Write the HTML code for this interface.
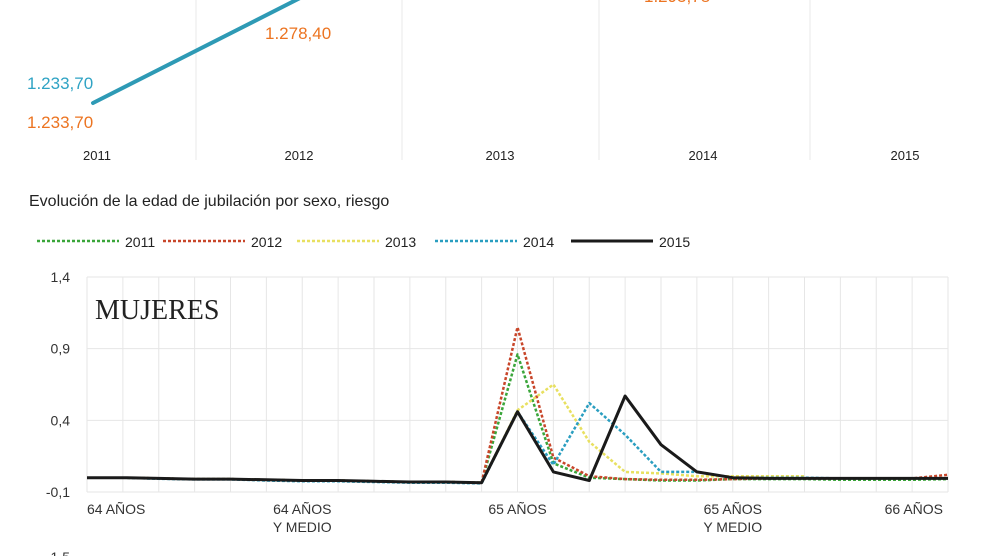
<!DOCTYPE html>
<html><head><meta charset="utf-8"><style>
html,body{margin:0;padding:0;background:#fff;width:990px;height:556px;overflow:hidden}
svg{display:block;font-family:"Liberation Sans",Arial,sans-serif}
</style></head><body>
<svg id="c" width="990" height="556" viewBox="0 0 990 556">
 <g>
  <line x1="196" y1="0" x2="196" y2="160" stroke="#e8e8e8"/>
  <line x1="402" y1="0" x2="402" y2="160" stroke="#e8e8e8"/>
  <line x1="599" y1="0" x2="599" y2="160" stroke="#e8e8e8"/>
  <line x1="810" y1="0" x2="810" y2="160" stroke="#e8e8e8"/>
  <line x1="93" y1="103" x2="302" y2="-3" stroke="#2e9ab5" stroke-width="4" stroke-linecap="round"/>
  <text x="27" y="89" font-size="17" fill="#2fa3c4">1.233,70</text>
  <text x="27" y="128" font-size="17" fill="#ec7421">1.233,70</text>
  <text x="265" y="39" font-size="17" fill="#ec7421">1.278,40</text>
  <text x="644" y="2" font-size="17" fill="#ec7421">1.295,78</text>
  <g font-size="13" fill="#222" text-anchor="middle">
   <text x="97" y="160">2011</text>
   <text x="299" y="160">2012</text>
   <text x="500" y="160">2013</text>
   <text x="703" y="160">2014</text>
   <text x="905" y="160">2015</text>
  </g>
 </g>
 <text x="29" y="206" font-size="16" fill="#222">Evolución de la edad de jubilación por sexo, riesgo</text>
 <g id="legend"></g>
 <g id="grid"></g>
 <text x="95" y="319" font-family="'Liberation Serif',serif" font-size="28" fill="#222">MUJERES</text>
 <g id="series"></g>
 <text x="70" y="562" font-size="14" fill="#333" text-anchor="end">-1,5</text>
</svg>
<script>
const yTicks=[1.4,0.9,0.4,-0.1];
const yTickLabels=["1,4","0,9","0,4","-0,1"];
const xLabels=[[0,"64 AÑOS",""],[6,"64 AÑOS","Y MEDIO"],[12,"65 AÑOS",""],[18,"65 AÑOS","Y MEDIO"],[24,"66 AÑOS",""]];
const seriesNames=["2011","2012","2013","2014","2015"];
const s2011=[0,0,-0.005,-0.01,-0.01,-0.015,-0.02,-0.02,-0.025,-0.03,-0.03,-0.035,0.86,0.1,0.0,-0.01,-0.02,-0.02,-0.01,-0.01,-0.01,-0.015,-0.015,-0.015,-0.01];
const s2012=[0,0,-0.005,-0.01,-0.01,-0.015,-0.02,-0.02,-0.025,-0.03,-0.03,-0.035,1.05,0.14,0.01,-0.01,-0.015,-0.015,-0.01,-0.005,-0.005,-0.005,-0.005,-0.005,0.02];
const s2013=[0,0,-0.005,-0.01,-0.01,-0.015,-0.02,-0.02,-0.025,-0.03,-0.03,-0.035,0.47,0.65,0.25,0.04,0.03,0.01,0.01,0.01,0.01,null,null,null,null];
const s2014=[0,0,-0.008,-0.012,-0.012,-0.02,-0.025,-0.025,-0.03,-0.035,-0.035,-0.04,0.46,0.09,0.52,0.3,0.04,0.04,0.0,0.0,0.0,-0.005,-0.005,-0.005,-0.005];
const s2015=[0,0,-0.005,-0.01,-0.01,-0.015,-0.02,-0.02,-0.025,-0.03,-0.03,-0.035,0.46,0.04,-0.02,0.57,0.23,0.04,0.0,-0.005,-0.005,-0.005,-0.005,-0.005,-0.005];
const seriesData=[s2011,s2012,s2013,s2014,s2015];
const colors=["#3aa53a","#c8462a","#e8e060","#2a9ec0","#1a1a1a"];
const NS="http://www.w3.org/2000/svg";
const X0=87,X1=948,Y0=277,Y1=492,YMAX=1.4,YMIN=-0.1,N=24;
const xs=i=>X0+i*(X1-X0)/N;
const ys=v=>Y0+(YMAX-v)*(Y1-Y0)/(YMAX-YMIN);
function mk(tag,attrs,parent){const e=document.createElementNS(NS,tag);for(const k in attrs)e.setAttribute(k,attrs[k]);parent.appendChild(e);return e;}
const grid=document.getElementById('grid');
for(let i=0;i<=N;i++){
 const l=mk('line',{x1:xs(i),x2:xs(i),y1:Y0,y2:Y1,stroke:'#e6e6e6'},grid);
 
 
}
yTicks.forEach((v,i)=>{
 const l=mk('line',{x1:X0,x2:X1,y1:ys(v),y2:ys(v),stroke:'#e6e6e6'},grid);
 
 
 const t=mk('text',{x:70,y:ys(v)+5,'font-size':14,fill:'#333','text-anchor':'end'},grid);
 t.textContent=yTickLabels[i];
 
 
});
xLabels.forEach(([i,a,b])=>{
 const anchor=i===0?'start':(i===N?'end':'middle');
 const x=i===0?X0:(i===N?943:xs(i));
 const t=mk('text',{x:x,y:514,'font-size':14,fill:'#333','text-anchor':anchor},grid);
 t.textContent=a;
 
 
 if(b){const t2=mk('text',{x:x,y:532,'font-size':14,fill:'#333','text-anchor':anchor},grid);
 t2.textContent=b;
 
 }
});
const sg=document.getElementById('series');
seriesData.forEach((d,k)=>{
 let p='';let started=false;
 d.forEach((v,i)=>{if(v===null)return;p+=(started?'L':'M')+xs(i).toFixed(1)+' '+ys(v).toFixed(1);started=true;});
 const dash=k<4?{'stroke-dasharray':'3 2'}:{};
 const path=mk('path',Object.assign({d:p,fill:'none',stroke:colors[k],'stroke-width':k<4?2.5:3,'stroke-linejoin':'round'},dash),sg);
 
 
});
const lg=document.getElementById('legend');
const lx=[37,163,297,435,571];
seriesNames.forEach((n,k)=>{
 const attrs={x1:lx[k],x2:lx[k]+82,y1:241,y2:241,stroke:colors[k],'stroke-width':k<4?2.5:3};
 if(k<4)attrs['stroke-dasharray']='3 2';
 const l=mk('line',attrs,lg);
 
 
 const t=mk('text',{x:lx[k]+88,y:247,'font-size':14,fill:'#222'},lg);
 t.textContent=n;
 
 
});
</script>
</body></html>
